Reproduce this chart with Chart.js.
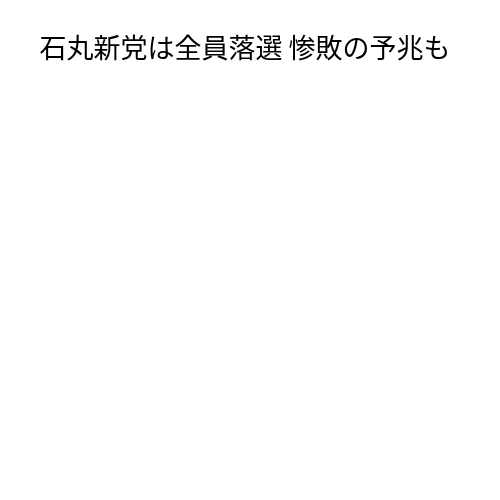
<!DOCTYPE html>
<html>
<head>
<meta charset="utf-8">
<script src="https://cdn.jsdelivr.net/npm/chart.js@4"></script>
<style>
  html, body { margin: 0; padding: 0; background: #fff; }
  #wrap { width: 500px; height: 500px; }
</style>
</head>
<body>
<div id="wrap"><canvas id="chart"></canvas></div>
<script>
// グラフのタイトルとデータ（元の画像には描画された値がない）
const titleText = '石丸新党は全員落選 惨敗の予兆も';
const categories = [];
const values = [];

const ctx = document.getElementById('chart').getContext('2d');

new Chart(ctx, {
    type: 'pie',
    data: {
        labels: categories,
        datasets: [{
            data: values
        }]
    },
    options: {
        responsive: true,
        maintainAspectRatio: false,
        animation: false,
        layout: { padding: { top: 32, right: 10 } },
        plugins: {
            legend: { display: false },
            tooltip: { enabled: false },
            title: {
                display: true,
                text: titleText,
                color: '#000',
                padding: { top: 0, bottom: 10 },
                font: {
                    family: '"Noto Sans CJK JP", sans-serif',
                    size: 27,
                    weight: 'normal'
                }
            }
        }
    }
});
</script>
</body>
</html>
